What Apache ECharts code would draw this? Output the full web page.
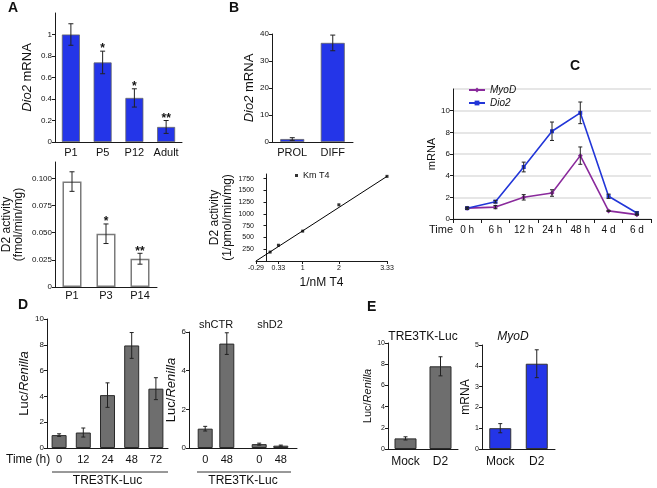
<!DOCTYPE html>
<html>
<head>
<meta charset="utf-8">
<script src="https://cdn.jsdelivr.net/npm/echarts@6/dist/echarts.min.js"></script>
<style>
  html, body { margin: 0; padding: 0; background: #fff; }
  #chart { width: 657px; height: 488px; }
</style>
</head>
<body>
<div id="chart"></div>
<script>
const FONT = '"Liberation Sans", Arial, Helvetica, sans-serif';

// A – Dio2 mRNA during development
const aTopCats = ['P1', 'P5', 'P12', 'Adult'];
const aTopVals = [1.0, 0.74, 0.41, 0.14];
const aTopErr = [0.1, 0.105, 0.085, 0.06];
const aTopStars = ['', '*', '*', '**'];

// A – D2 activity
const aBotCats = ['P1', 'P3', 'P14'];
const aBotVals = [0.097, 0.049, 0.026];
const aBotErr = [0.009, 0.009, 0.005];
const aBotStars = ['', '*', '**'];

// B – Dio2 mRNA, proliferating vs differentiated
const bTopCats = ['PROL', 'DIFF'];
const bTopVals = [1.1, 36.7];
const bTopErr = [0.5, 2.9];

// B – double reciprocal plot
const kmX = [0.1, 0.33, 1, 2, 3.33];
const kmY = [190, 335, 635, 1195, 1800];
const fitX = [-0.29, 3.33];
const fitY = [0, 1800];
const kmXTicks = [-0.29, 0.33, 1, 2, 3.33];
const kmYTicks = [250, 500, 750, 1000, 1250, 1500, 1750];

// C – time course
const cCats = ['0 h', '6 h', '12 h', '24 h', '48 h', '4 d', '6 d'];
const myodVals = [1.0, 1.1, 2.0, 2.4, 5.85, 0.75, 0.4];
const myodErr = [0.08, 0.15, 0.25, 0.3, 0.8, 0.05, 0.05];
const dio2Vals = [1.0, 1.6, 4.8, 8.1, 9.8, 2.1, 0.55];
const dio2Err = [0.1, 0.12, 0.45, 0.85, 1.0, 0.2, 0.1];

// D – TRE3TK-Luc time course
const dLeftCats = ['0', '12', '24', '48', '72'];
const dLeftVals = [1.0, 1.2, 4.1, 7.95, 4.6];
const dLeftErr = [0.1, 0.35, 0.95, 1.0, 0.85];

// D – shCTR / shD2 (blank slots keep the gap between the groups)
const dRightCats = ['', '0', '', '48', '', '', '0', '', '48', ''];
const dRightVals = [null, 1.0, null, 5.4, null, null, 0.2, null, 0.12, null];
const dRightErr = [null, 0.12, null, 0.56, null, null, 0.05, null, 0.03, null];
const dGroups = ['shCTR', 'shD2'];

// E
const eCats = ['Mock', 'D2'];
const eLucVals = [1.0, 7.8];
const eLucErr = [0.15, 0.9];
const eMyodVals = [1.0, 4.1];
const eMyodErr = [0.22, 0.67];

const BLUE = '#2435e8';
const GREY = '#6e6e6e';
const INK = '#1a1a1a';

const chart = echarts.init(document.getElementById('chart'));

const italic = { fontStyle: 'italic', fontFamily: FONT };

function errSeries(idx, vals, errs, stars, cap) {
  const data = vals
    .map((v, i) => (v == null ? null : [i, v - errs[i], v + errs[i]]))
    .filter(Boolean);
  return {
    type: 'custom',
    xAxisIndex: idx,
    yAxisIndex: idx,
    z: 5,
    silent: true,
    data,
    encode: { x: 0, y: [1, 2] },
    renderItem(params, api) {
      const i = api.value(0);
      const lo = api.coord([i, api.value(1)]);
      const hi = api.coord([i, api.value(2)]);
      const st = { stroke: '#222', lineWidth: 1 };
      const kids = [
        { type: 'line', shape: { x1: lo[0], y1: lo[1], x2: hi[0], y2: hi[1] }, style: st },
        { type: 'line', shape: { x1: lo[0] - cap, y1: lo[1], x2: lo[0] + cap, y2: lo[1] }, style: st },
        { type: 'line', shape: { x1: hi[0] - cap, y1: hi[1], x2: hi[0] + cap, y2: hi[1] }, style: st }
      ];
      const s = stars && stars[i];
      if (s) {
        kids.push({
          type: 'text',
          x: hi[0],
          y: hi[1] + 4,
          style: { text: s, align: 'center', verticalAlign: 'bottom', font: 'bold 12px ' + FONT, fill: '#111' }
        });
      }
      return { type: 'group', children: kids };
    }
  };
}

function catX(grid, data, margin, fontSize) {
  return {
    gridIndex: grid,
    type: 'category',
    data,
    axisLine: { lineStyle: { color: INK, width: 1 } },
    axisTick: { show: false },
    axisLabel: { interval: 0, margin, fontSize, color: '#111', fontFamily: FONT }
  };
}

function valY(grid, max, interval, fontSize, fmt, showMax) {
  return {
    gridIndex: grid,
    type: 'value',
    min: 0,
    max,
    interval,
    axisLine: { show: true, lineStyle: { color: INK, width: 1 } },
    axisTick: { show: true, length: 3, lineStyle: { color: INK } },
    axisLabel: { fontSize, margin: 3, color: '#111', fontFamily: FONT, showMaxLabel: showMax, formatter: fmt },
    splitLine: { show: false },
    nameLocation: 'middle',
    nameTextStyle: { fontSize: 13, color: '#111', fontFamily: FONT }
  };
}

function bars(idx, vals, width, color, border) {
  return {
    type: 'bar',
    xAxisIndex: idx,
    yAxisIndex: idx,
    data: vals,
    barWidth: width,
    itemStyle: { color, borderColor: border.color, borderWidth: border.width },
    silent: true
  };
}

const x0 = catX(0, aTopCats, 5, 11);
const x1 = catX(1, aBotCats, 3, 11);
const x2 = catX(2, bTopCats, 5, 11);
const x3 = {
  gridIndex: 3,
  type: 'value',
  min: -0.29,
  max: 3.33,
  axisLine: { lineStyle: { color: INK } },
  axisTick: { show: true, length: 3, customValues: kmXTicks, lineStyle: { color: INK } },
  axisLabel: { customValues: kmXTicks, fontSize: 7, margin: 4, color: '#111', fontFamily: FONT, formatter: v => String(v) },
  splitLine: { show: false },
  name: '1/nM T4',
  nameLocation: 'middle',
  nameGap: 16,
  nameTextStyle: { fontSize: 12, color: '#111', fontFamily: FONT }
};
const x4 = catX(4, cCats, 6, 10);
x4.boundaryGap = true;
x4.axisTick = { show: true, length: 4, lineStyle: { color: INK } };
const x5 = catX(5, dLeftCats, 6, 11);
x5.name = 'TRE3TK-Luc';
x5.nameLocation = 'middle';
x5.nameGap = 27;
x5.nameTextStyle = { fontSize: 12, color: '#111', fontFamily: FONT };
const x6 = catX(6, dRightCats, 6, 11);
x6.name = 'TRE3TK-Luc';
x6.nameLocation = 'middle';
x6.nameGap = 27;
x6.nameTextStyle = { fontSize: 12, color: '#111', fontFamily: FONT };
const x7 = catX(7, eCats, 7, 12);
const x8 = catX(8, eCats, 7, 12);
const x9 = catX(6, dGroups, 2, 11);
x9.position = 'top';
x9.axisLine = { show: false };
x9.axisLabel.verticalAlign = 'bottom';

const y0 = valY(0, 1.2, 0.2, 8, v => (v === 0 ? '0' : String(+v.toFixed(1))), false);
y0.name = '{i|Dio2} mRNA';
y0.nameGap = 21;
y0.nameTextStyle.rich = { i: Object.assign({ fontSize: 13 }, italic) };
const y1 = valY(1, 0.115, 0.025, 8, v => (v === 0 ? '0' : v.toFixed(3)), false);
y1.name = 'D2 activity\n(fmol/min/mg)';
y1.nameGap = 30;
y1.nameTextStyle.fontSize = 12;
y1.nameTextStyle.lineHeight = 12;
const y2 = valY(2, 40, 10, 8, undefined, true);
y2.name = '{i|Dio2} mRNA';
y2.nameGap = 15;
y2.nameTextStyle.rich = { i: Object.assign({ fontSize: 13 }, italic) };
const y3 = {
  gridIndex: 3,
  type: 'value',
  min: 0,
  max: 1850,
  axisLine: { show: true, onZero: true, lineStyle: { color: INK } },
  axisTick: { show: true, length: 3, customValues: kmYTicks, lineStyle: { color: INK } },
  axisLabel: { customValues: kmYTicks, fontSize: 7, margin: 2, color: '#111', fontFamily: FONT, formatter: v => String(v) },
  splitLine: { show: false },
  name: 'D2 activity\n(1/pmol/min/mg)',
  nameLocation: 'middle',
  nameGap: 21,
  nameTextStyle: { fontSize: 12, lineHeight: 13, color: '#111', fontFamily: FONT }
};
const y4 = valY(4, 12, 2, 8, undefined, false);
y4.splitLine = { show: true, lineStyle: { color: '#e6e6e6', width: 2 } };
y4.name = 'mRNA';
y4.nameGap = 15;
y4.nameTextStyle.fontSize = 11;
const y5 = valY(5, 10, 2, 8, undefined, true);
y5.name = '{n|Luc/}{i|Renilla}';
y5.nameGap = 12;
y5.nameTextStyle.rich = { n: { fontSize: 13, fontFamily: FONT }, i: Object.assign({ fontSize: 13 }, italic) };
const y6 = valY(6, 6, 2, 8, undefined, true);
y6.name = '{n|Luc/}{i|Renilla}';
y6.nameGap = 8;
y6.nameTextStyle.rich = { n: { fontSize: 13, fontFamily: FONT }, i: Object.assign({ fontSize: 13 }, italic) };
const y7 = valY(7, 10, 2, 7, undefined, true);
y7.name = '{n|Luc/}{i|Renilla}';
y7.nameGap = 9;
y7.nameTextStyle.rich = { n: { fontSize: 11, fontFamily: FONT }, i: Object.assign({ fontSize: 11 }, italic) };
const y8 = valY(8, 5, 1, 7, undefined, true);
y8.name = 'mRNA';
y8.nameGap = 8;
y8.nameTextStyle.fontSize = 12;

const text = (x, y, s, opts) => ({
  type: 'text',
  x,
  y,
  style: Object.assign({ text: s, font: '12px ' + FONT, fill: '#111', verticalAlign: 'middle' }, opts)
});

const option = {
  animation: false,
  backgroundColor: '#fff',
  textStyle: { fontFamily: FONT },
  grid: [
    { left: 55, top: 13, width: 127, height: 129 },
    { left: 55, top: 162, width: 102, height: 125 },
    { left: 272, top: 34, width: 81, height: 108 },
    { left: 256, top: 174, width: 131, height: 87 },
    { left: 453, top: 89, width: 198, height: 130 },
    { left: 47, top: 319, width: 121, height: 129 },
    { left: 189, top: 332, width: 108, height: 117 },
    { left: 388, top: 343, width: 70, height: 106 },
    { left: 482, top: 345, width: 73, height: 104 }
  ],
  xAxis: [x0, x1, x2, x3, x4, x5, x6, x7, x8, x9],
  yAxis: [y0, y1, y2, y3, y4, y5, y6, y7, y8],
  legend: [
    {
      data: ['MyoD', 'Dio2'],
      orient: 'vertical',
      left: 463,
      top: 80,
      itemWidth: 16,
      itemHeight: 6,
      itemGap: 3,
      selectedMode: false,
      textStyle: { fontSize: 10, fontStyle: 'italic', color: '#111', fontFamily: FONT }
    },
    {
      data: [{ name: 'Km T4', icon: 'rect' }],
      left: 290,
      top: 166,
      itemWidth: 3,
      itemHeight: 3,
      selectedMode: false,
      textStyle: { fontSize: 9, color: '#111', fontFamily: FONT }
    }
  ],
  series: [
    bars(0, aTopVals, 18, BLUE, { color: '#666', width: 0.8 }),
    errSeries(0, aTopVals, aTopErr, aTopStars, 2.5),
    bars(1, aBotVals, 19, '#fff', { color: '#7a7a7a', width: 1.5 }),
    errSeries(1, aBotVals, aBotErr, aBotStars, 2.5),
    bars(2, bTopVals, 24, BLUE, { color: '#666', width: 0.8 }),
    errSeries(2, bTopVals, bTopErr, null, 2.5),
    {
      name: 'Km T4',
      type: 'scatter',
      xAxisIndex: 3,
      yAxisIndex: 3,
      symbol: 'rect',
      symbolSize: 3,
      itemStyle: { color: '#000' },
      data: kmX.map((x, i) => [x, kmY[i]])
    },
    {
      type: 'line',
      xAxisIndex: 3,
      yAxisIndex: 3,
      showSymbol: false,
      lineStyle: { color: '#000', width: 1 },
      data: fitX.map((x, i) => [x, fitY[i]])
    },
    {
      name: 'MyoD',
      type: 'line',
      xAxisIndex: 4,
      yAxisIndex: 4,
      data: myodVals,
      symbol: 'diamond',
      symbolSize: 5,
      color: '#8a2a9c',
      lineStyle: { width: 1.6 }
    },
    {
      name: 'Dio2',
      type: 'line',
      xAxisIndex: 4,
      yAxisIndex: 4,
      data: dio2Vals,
      symbol: 'rect',
      symbolSize: 4,
      color: '#2236d8',
      lineStyle: { width: 1.6 }
    },
    errSeries(4, myodVals, myodErr, null, 2),
    errSeries(4, dio2Vals, dio2Err, null, 2),
    bars(5, dLeftVals, 15, GREY, { color: '#2a2a2a', width: 1 }),
    errSeries(5, dLeftVals, dLeftErr, null, 2),
    bars(6, dRightVals, 15, GREY, { color: '#2a2a2a', width: 1 }),
    errSeries(6, dRightVals, dRightErr, null, 2),
    bars(7, eLucVals, 22, GREY, { color: '#2a2a2a', width: 1 }),
    errSeries(7, eLucVals, eLucErr, null, 2),
    bars(8, eMyodVals, 22, BLUE, { color: '#333', width: 1 }),
    errSeries(8, eMyodVals, eMyodErr, null, 2)
  ],
  graphic: [
    text(8, 8, 'A', { font: 'bold 14px ' + FONT }),
    text(229, 8, 'B', { font: 'bold 14px ' + FONT }),
    text(570, 66, 'C', { font: 'bold 14px ' + FONT }),
    text(18, 305, 'D', { font: 'bold 14px ' + FONT }),
    text(367, 307, 'E', { font: 'bold 14px ' + FONT }),
    text(6, 460, 'Time (h)'),
    text(453, 230, 'Time', { align: 'right', font: '11px ' + FONT }),
    text(423, 337, 'TRE3TK-Luc', { align: 'center' }),
    text(513, 337, 'MyoD', { align: 'center', font: 'italic 12px ' + FONT }),
    { type: 'line', shape: { x1: 52, y1: 472, x2: 168, y2: 472 }, style: { stroke: '#333', lineWidth: 1 } },
    { type: 'line', shape: { x1: 197, y1: 472, x2: 291, y2: 472 }, style: { stroke: '#333', lineWidth: 1 } }
  ]
};

chart.setOption(option);
</script>
</body>
</html>
